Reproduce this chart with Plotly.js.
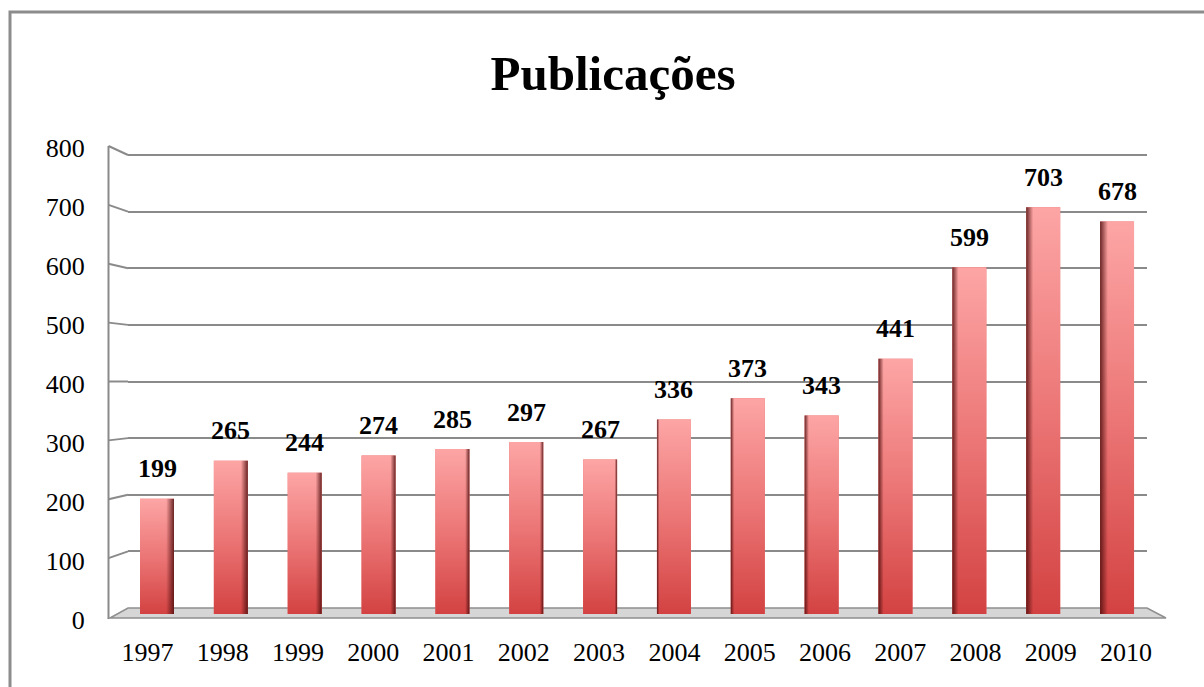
<!DOCTYPE html>
<html>
<head>
<meta charset="utf-8">
<script src="https://cdn.plot.ly/plotly-3.0.1.min.js"></script>
<style>html,body{margin:0;padding:0;background:#fff;}#chart{width:1204px;height:687px;}</style>
</head>
<body>
<div id="chart"></div>
<script>
const years = ['1997','1998','1999','2000','2001','2002','2003','2004','2005','2006','2007','2008','2009','2010'];
const publicacoes = [199,265,244,274,285,297,267,336,373,343,441,599,703,678];
const yTicks = [0,100,200,300,400,500,600,700,800];
const chartTitle = 'Publicações';

const W = 1204, H = 687;
const L = 128, R = 1147, T = 140, B = 625;   // plot area in pixels
const catPx = 73.85, firstCenterPx = 157;      // bar spacing (back plane)
const lblPx = 75.27, firstLblPx = 147.5;       // label spacing (front plane)
const barW = 0.46;

// paper coordinate helpers
const X = px => (px - L) / (R - L);
const Y = py => (B - py) / (B - T);
// axis range so that value 0 sits at pixel p0 and 800 at pixel p800
function rangeFor(p0, p800) {
  const h = B - T;
  const r = 800 * h / (p0 - p800);
  const a = -(B - p0) * r / h;
  return [a, a + r];
}
const x0 = -(firstCenterPx - L) / catPx;
const xRange = [x0, x0 + (R - L) / catPx];
const lx0 = -(firstLblPx - L) / lblPx;
const xRangeLbl = [lx0, lx0 + (R - L) / lblPx];

const idx = years.map((_, i) => i);
const traces = [];

// base bars
traces.push({
  type: 'bar', x: idx, y: publicacoes, width: barW,
  marker: {color: '#e66464', line: {width: 0}},
  hoverinfo: 'skip', showlegend: false
});

// cylinder shading overlays (vertical gradient + dark side)
const hw = barW / 2;
idx.forEach(i => {
  const v = publicacoes[i];
  traces.push({
    type: 'scatter', mode: 'lines', x: [i - hw, i + hw, i + hw, i - hw, i - hw], y: [0, 0, v, v, 0],
    fill: 'toself', line: {width: 0, color: 'rgba(0,0,0,0)'},
    fillgradient: {type: 'vertical', colorscale: [[0, '#d34242'], [0.5, '#ec7676'], [1, '#fda5a5']]},
    hoverinfo: 'skip', showlegend: false
  });
  const s = (2 + Math.abs(i - 6.5) * 0.9) / catPx;
  const right = i <= 6;
  const xa = right ? i + hw - s : i - hw;
  const xb = right ? i + hw : i - hw + s;
  const dark = 'rgba(80,15,15,0.85)', clear = 'rgba(80,15,15,0)';
  traces.push({
    type: 'scatter', mode: 'lines', x: [xa, xb, xb, xa, xa], y: [0, 0, v, v, 0],
    fill: 'toself', line: {width: 0, color: 'rgba(0,0,0,0)'},
    fillgradient: {type: 'horizontal', colorscale: right ? [[0, clear], [1, dark]] : [[0, dark], [1, clear]]},
    hoverinfo: 'skip', showlegend: false
  });
});

// empty traces for overlay axes
traces.push({type: 'scatter', x: [], y: [], yaxis: 'y2', showlegend: false, hoverinfo: 'skip'});
traces.push({type: 'scatter', x: [], y: [], yaxis: 'y3', showlegend: false, hoverinfo: 'skip'});
traces.push({type: 'scatter', x: [], y: [], xaxis: 'x2', showlegend: false, hoverinfo: 'skip'});

const gridColor = '#8a8a8a';
const shapes = [];
// outer border
shapes.push({type: 'rect', xref: 'paper', yref: 'paper', x0: X(10), x1: X(1215), y0: Y(12), y1: Y(700),
  line: {color: '#8c8c8c', width: 3}, layer: 'below'});
// floor
shapes.push({type: 'path', xref: 'paper', yref: 'paper',
  path: `M ${X(110)},${Y(618)} L ${X(128)},${Y(608)} L ${X(1147)},${Y(608)} L ${X(1166)},${Y(618)} Z`,
  fillcolor: '#d6d6d6', line: {color: '#8f8f8f', width: 1.5}, layer: 'below'});
// left wall front edge
shapes.push({type: 'line', xref: 'paper', yref: 'paper', x0: X(108.5), x1: X(108.5), y0: Y(146), y1: Y(619),
  line: {color: gridColor, width: 2}, layer: 'below'});
// slanted grid connectors on the side wall
yTicks.forEach(v => {
  if (v === 0) return;
  const pf = 617 - v * 471 / 800, pb = 608 - v * 453 / 800;
  shapes.push({type: 'line', xref: 'paper', yref: 'paper', x0: X(108.5), x1: X(128), y0: Y(pf), y1: Y(pb),
    line: {color: gridColor, width: 2}, layer: 'below'});
});

const serif = 'Liberation Serif, Times New Roman, serif';
const annotations = idx.map(i => ({
  x: i, y: publicacoes[i], xref: 'x', yref: 'y', text: '<b>' + publicacoes[i] + '</b>',
  showarrow: false, yanchor: 'middle', yshift: 30,
  font: {family: serif, size: 26, color: '#000'}
}));

const layout = {
  width: W, height: H, autosize: false,
  margin: {l: L, r: W - R, t: T, b: H - B, pad: 0},
  paper_bgcolor: '#ffffff', plot_bgcolor: 'rgba(0,0,0,0)',
  showlegend: false,
  title: {text: '<b>' + chartTitle + '</b>', font: {family: serif, size: 49, color: '#000'},
    xref: 'container', yref: 'container', x: 613 / W, y: 1 - 73 / H, xanchor: 'center', yanchor: 'middle'},
  xaxis: {range: xRange, showgrid: false, zeroline: false, showline: false,
    showticklabels: false, ticks: '', fixedrange: true},
  xaxis2: {overlaying: 'x', side: 'bottom', range: xRangeLbl, tickvals: idx, ticktext: years,
    showgrid: false, zeroline: false, showline: false,
    ticks: 'outside', ticklen: 4, tickcolor: 'rgba(0,0,0,0)',
    tickfont: {family: serif, size: 26, color: '#000'}, fixedrange: true},
  yaxis: {range: rangeFor(614, 151), showgrid: false, zeroline: false, showline: false,
    showticklabels: false, ticks: '', fixedrange: true},
  yaxis2: {overlaying: 'y', range: rangeFor(608, 155), tickvals: yTicks.filter(v => v > 0),
    showgrid: true, gridcolor: gridColor, gridwidth: 2, zeroline: false, showline: false,
    showticklabels: false, ticks: '', fixedrange: true},
  yaxis3: {overlaying: 'y', range: rangeFor(620, 148), tickvals: yTicks, ticktext: yTicks.map(String),
    showgrid: false, zeroline: false, showline: false, ticks: 'outside', ticklen: 37, tickcolor: 'rgba(0,0,0,0)',
    tickfont: {family: serif, size: 26, color: '#000'}, fixedrange: true},
  shapes: shapes,
  annotations: annotations
};

Plotly.newPlot('chart', traces, layout, {displayModeBar: false, staticPlot: true});
</script>
</body>
</html>
